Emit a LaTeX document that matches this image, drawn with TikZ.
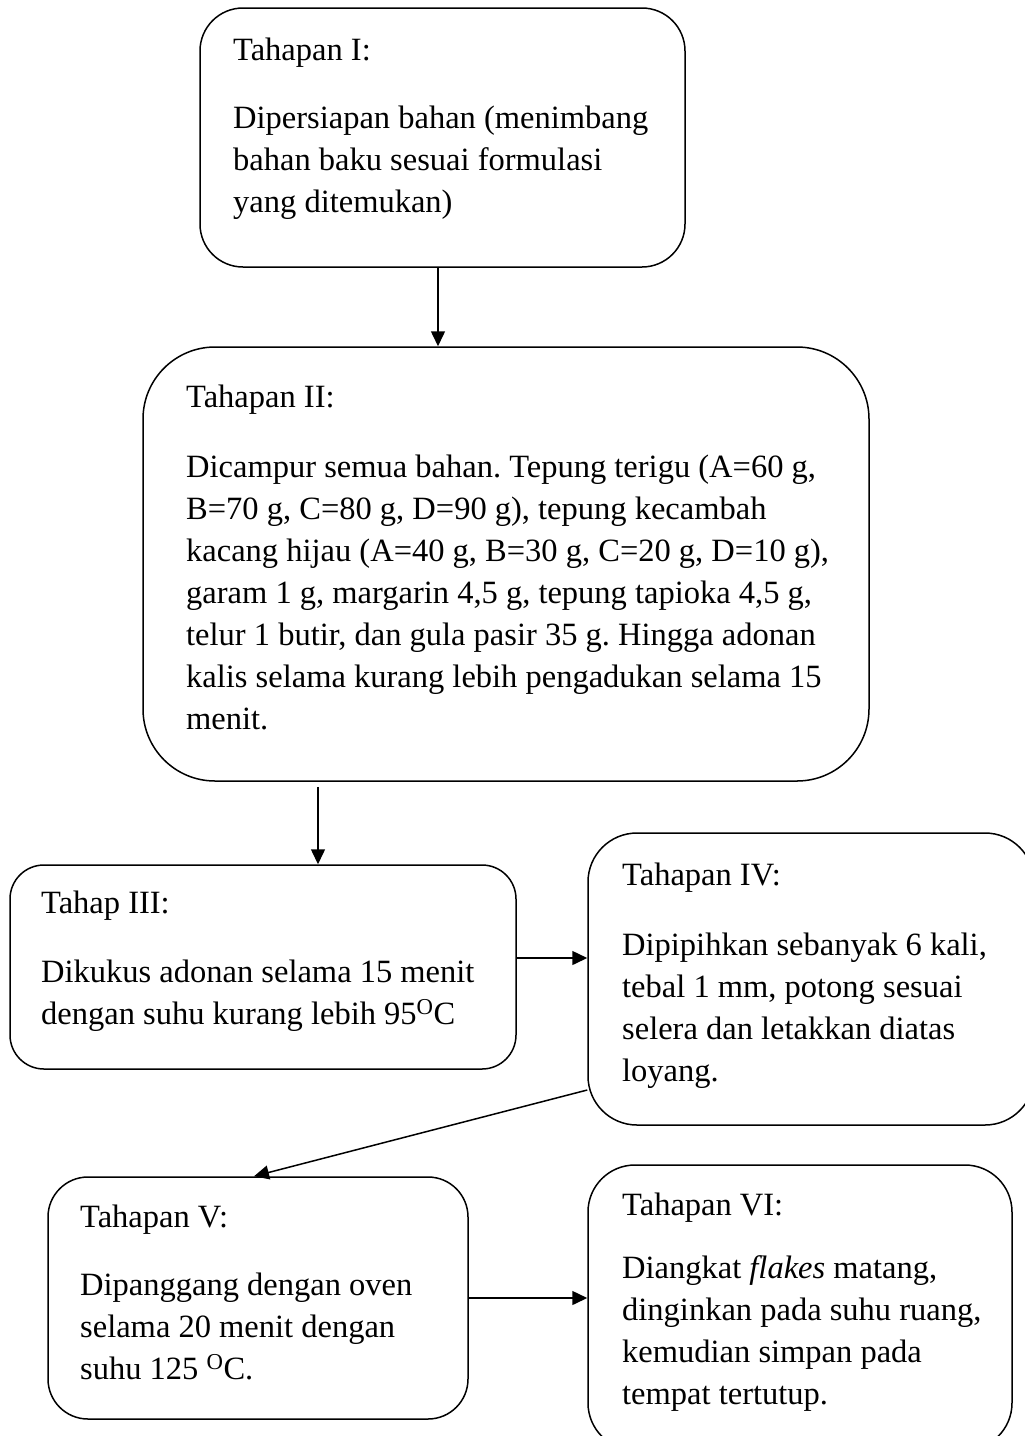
\documentclass[tikz,border=0pt]{standalone}
\usepackage{fontspec}
\setmainfont{Liberation Serif}
\usetikzlibrary{arrows.meta}

\begin{document}
\frenchspacing
\begin{tikzpicture}[x=1pt, y=-1pt,
        stage/.style={
          rectangle,
          draw,
          line width=1.5pt,
          rounded corners=#1,
          inner sep=0pt
        },
        stagetext/.style={
          anchor=base west,
          inner sep=0pt,
          font=\fontsize{32.5}{42}\selectfont
        },
        line/.style={-{Triangle[length=15pt,width=14pt]}, line width=1.5pt}
    ]
    \useasboundingbox (0,0) rectangle (1025,1436);

    % Define the boxes
    \node[stage=43pt, minimum width=485pt, minimum height=259pt] (tahap1) at (442.5,137.5) {};
    \node[stage=72pt, minimum width=726pt, minimum height=434pt] (tahap2) at (506,564) {};
    \node[stage=34pt, minimum width=506pt, minimum height=204pt] (tahap3) at (263,967) {};
    \node[stage=49pt, minimum width=446pt, minimum height=292pt] (tahap4) at (811,979) {};
    \node[stage=40pt, minimum width=420pt, minimum height=242pt] (tahap5) at (258,1298) {};
    \node[stage=47pt, minimum width=424pt, minimum height=285pt] (tahap6) at (800,1307.5) {};

    % Texts of the boxes
    \node[stagetext] (tahap1text) at (233,60) {\parbox[t]{800pt}{Tahapan I:\\[26pt]
      Dipersiapan bahan (menimbang\\ bahan baku sesuai formulasi\\ yang ditemukan)}};
    \node[stagetext] (tahap2text) at (186,407) {\parbox[t]{800pt}{Tahapan II:\\[28pt]
      Dicampur semua bahan. Tepung terigu (A=60 g,\\
      B=70 g, C=80 g, D=90 g), tepung kecambah\\
      kacang hijau (A=40 g, B=30 g, C=20 g, D=10 g),\\
      garam 1 g, margarin 4,5 g, tepung tapioka 4,5 g,\\
      telur 1 butir, dan gula pasir 35 g. Hingga adonan\\
      kalis selama kurang lebih pengadukan selama 15\\
      menit.}};
    \node[stagetext] (tahap3text) at (41,913) {\parbox[t]{800pt}{Tahap III:\\[27pt]
      Dikukus adonan selama 15 menit\\ dengan suhu kurang lebih 95\textsuperscript{O}C}};
    \node[stagetext] (tahap4text) at (622,885) {\parbox[t]{800pt}{Tahapan IV:\\[28pt]
      Dipipihkan sebanyak 6 kali,\\ tebal 1 mm, potong sesuai\\ selera dan letakkan diatas\\ loyang.}};
    \node[stagetext] (tahap5text) at (80,1227) {\parbox[t]{800pt}{Tahapan V:\\[26pt]
      Dipanggang dengan oven\\ selama 20 menit dengan\\ suhu 125 \textsuperscript{O}C.}};
    \node[stagetext] (tahap6text) at (622,1215) {\parbox[t]{800pt}{Tahapan VI:\\[21pt]
      Diangkat \textit{flakes} matang,\\ dinginkan pada suhu ruang,\\ kemudian simpan pada\\ tempat tertutup.}};

    % Connect the boxes
    \coordinate (a1) at ([xshift=-4.5pt]tahap1.south);
    \coordinate (a2) at ([xshift=-188pt,yshift=-5pt]tahap2.south);
    \coordinate (a3) at ([yshift=9pt]tahap3.east);
    \draw[line] (a1) -- (a1 |- tahap2.north);
    \draw[line] (a2) -- (a2 |- tahap3.north);
    \draw[line] (a3) -- (a3 -| tahap4.west);
    \draw[line] ([yshift=-111pt]tahap4.west) -- ([xshift=-4pt]tahap5.north);
    \draw[line] (tahap5.east) -- (tahap5.east -| tahap6.west);

\end{tikzpicture}
\end{document}
